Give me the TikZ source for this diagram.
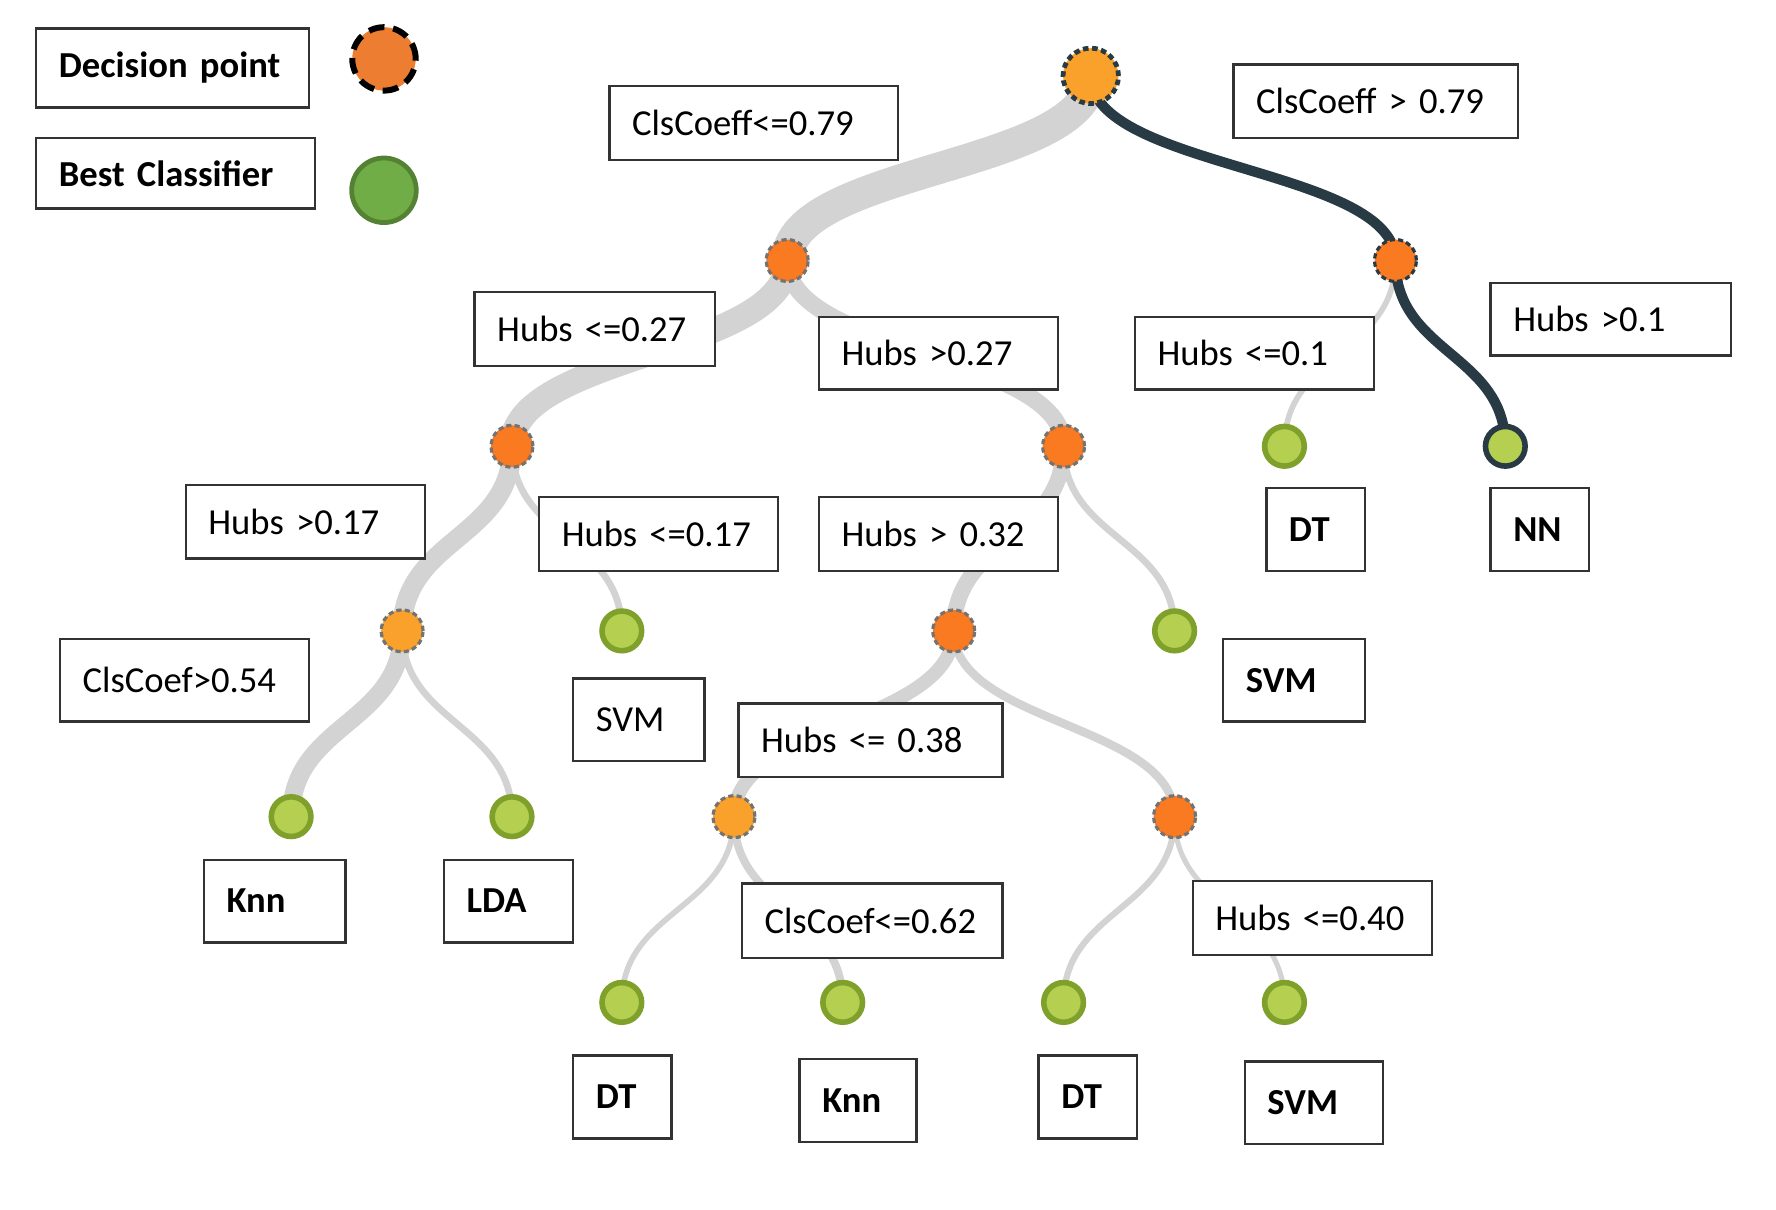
\documentclass[tikz,border=0pt]{standalone}
\usepackage{fontspec}
\setmainfont{Carlito}
\usepackage{tikz}
\usetikzlibrary{backgrounds}
\usepackage{xcolor}
\definecolor{DecRed}{HTML}{F97A21}
\definecolor{DecYellow}{HTML}{F9A12B}
\definecolor{LeafFill}{HTML}{B5CF50}
\definecolor{LeafRim}{HTML}{7FA12B}
\definecolor{PathDark}{HTML}{283B45}
\definecolor{EdgeGray}{HTML}{D3D3D3}
\definecolor{LegendOrange}{HTML}{ED7D31}
\definecolor{LegendGreen}{HTML}{70AD47}
\definecolor{LegendRim}{HTML}{548235}

\begin{document}
\begin{tikzpicture}[x=1cm, y=-1cm,
    dec/.style={circle, inner sep=0pt, minimum size=0.37cm, fill=DecRed,
        draw=black!55, line width=0.8pt, dash pattern=on 1.3pt off 0.8pt},
    leaf/.style={circle, inner sep=0pt, minimum size=0.35cm, fill=LeafFill,
        draw=LeafRim, line width=1.4pt},
    cbox/.style 2 args={draw=black!80, line width=0.6pt, fill=white,
        inner xsep=0.2cm, inner ysep=0pt, align=left, text width=#1,
        minimum height=#2, font=\fontsize{9.2}{11}\selectfont},
    lbox/.style 2 args={cbox={#1}{#2}, font=\fontsize{9.2}{11}\selectfont\bfseries},
    branch/.style={draw=EdgeGray, line width=#1},
    ]
    \useasboundingbox (0,0) rectangle (15.68,10.68);

    % decision points
    \node[dec, minimum size=0.49cm, fill=DecYellow, draw=PathDark, line width=1.2pt,
        dash pattern=on 1.4pt off 0.9pt] (root) at (9.63,0.67) {};
    \foreach \name/\x/\y in {n1/6.95/2.30, n3/4.52/3.94, n4/9.39/3.94, n6/8.42/5.57, n8/10.37/7.21}
        \node[dec] (\name) at (\x,\y) {};
    \foreach \name/\x/\y in {n5/3.55/5.57, n7/6.48/7.21}
        \node[dec, fill=DecYellow] (\name) at (\x,\y) {};
    \node[dec, draw=PathDark] (n2) at (12.32,2.30) {};

    % best classifiers
    \foreach \name/\x/\y in {dtA/11.34/3.94, svmA/5.49/5.57, svmB/10.37/5.57, knnA/2.57/7.21,
        ldaA/4.52/7.21, dtB/5.49/8.85, knnB/7.44/8.85, dtC/9.39/8.85, svmC/11.34/8.85}
        \node[leaf] (\name) at (\x,\y) {};
    \node[leaf, draw=PathDark] (nnA) at (13.29,3.94) {};

    \begin{scope}[on background layer]
        \foreach \a/\b/\w in {root/n1/0.28cm, n1/n3/0.22cm, n1/n4/0.15cm, n2/dtA/0.05cm,
            n3/n5/0.17cm, n3/svmA/0.06cm, n4/n6/0.14cm, n4/svmB/0.06cm, n5/knnA/0.16cm,
            n5/ldaA/0.06cm, n6/n7/0.12cm, n6/n8/0.075cm, n7/dtB/0.05cm, n7/knnB/0.07cm,
            n8/dtC/0.055cm, n8/svmC/0.045cm}
            \draw[branch=\w] (\a.center) .. controls +(0,0.82) and +(0,-0.82) .. (\b.center);
        \foreach \a/\b in {root/n2, n2/nnA}
            \draw[branch=0.09cm, draw=PathDark] (\a.center) .. controls +(0,0.82) and +(0,-0.82) .. (\b.center);
    \end{scope}

    % split conditions
    \node[cbox={2.15cm}{0.65cm}] (cLeA) at (6.655,1.085) {ClsCoeff<=0.79};
    \node[cbox={2.11cm}{0.65cm}] (cGtA) at (12.145,0.895) {ClsCoeff > 0.79};
    \node[cbox={1.72cm}{0.65cm}] (hLeA) at (5.25,2.905) {Hubs <=0.27};
    \node[cbox={1.71cm}{0.64cm}] (hGtA) at (8.285,3.12) {Hubs >0.27};
    \node[cbox={1.71cm}{0.64cm}] (hLeB) at (11.075,3.12) {Hubs <=0.1};
    \node[cbox={1.72cm}{0.64cm}] (hGtB) at (14.22,2.82) {Hubs >0.1};
    \node[cbox={1.71cm}{0.65cm}] (hGtC) at (2.695,4.605) {Hubs >0.17};
    \node[cbox={1.71cm}{0.65cm}] (hLeC) at (5.815,4.715) {Hubs <=0.17};
    \node[cbox={1.71cm}{0.65cm}] (hGtD) at (8.285,4.715) {Hubs > 0.32};
    \node[cbox={1.80cm}{0.73cm}] (cGtB) at (1.63,6.005) {ClsCoef>0.54};
    \node[cbox={1.93cm}{0.65cm}] (hLeD) at (7.685,6.535) {Hubs <= 0.38};
    \node[cbox={1.90cm}{0.66cm}] (cLeB) at (7.70,8.13) {ClsCoef<=0.62};
    \node[cbox={1.71cm}{0.65cm}] (hLeE) at (11.585,8.105) {Hubs <=0.40};

    % classifier names
    \node[lbox={0.47cm}{0.73cm}] (tDtA) at (11.615,4.675) {DT};
    \node[lbox={0.47cm}{0.73cm}] (tNnA) at (13.595,4.675) {NN};
    \node[cbox={0.76cm}{0.73cm}] (tSvmA) at (5.64,6.355) {SVM};
    \node[lbox={0.85cm}{0.73cm}] (tSvmB) at (11.425,6.005) {SVM};
    \node[lbox={0.85cm}{0.73cm}] (tKnnA) at (2.425,7.955) {Knn};
    \node[lbox={0.74cm}{0.73cm}] (tLdaA) at (4.49,7.955) {LDA};
    \node[lbox={0.47cm}{0.73cm}] (tDtB) at (5.495,9.685) {DT};
    \node[lbox={0.63cm}{0.73cm}] (tKnnB) at (7.575,9.715) {Knn};
    \node[lbox={0.47cm}{0.73cm}] (tDtC) at (9.605,9.685) {DT};
    \node[lbox={0.82cm}{0.73cm}] (tSvmC) at (11.60,9.735) {SVM};

    % legend
    \node[lbox={2.01cm}{0.70cm}] (keyDec) at (1.525,0.60) {Decision point};
    \node[lbox={2.06cm}{0.62cm}] (keyBest) at (1.55,1.53) {Best Classifier};
    \node[circle, minimum size=0.56cm, fill=LegendOrange, draw=black, line width=1.5pt,
        dash pattern=on 4pt off 2.2pt] (keyDecDot) at (3.39,0.52) {};
    \node[circle, minimum size=0.57cm, fill=LegendGreen, draw=LegendRim,
        line width=1.2pt] (keyBestDot) at (3.39,1.68) {};
\end{tikzpicture}
\end{document}
